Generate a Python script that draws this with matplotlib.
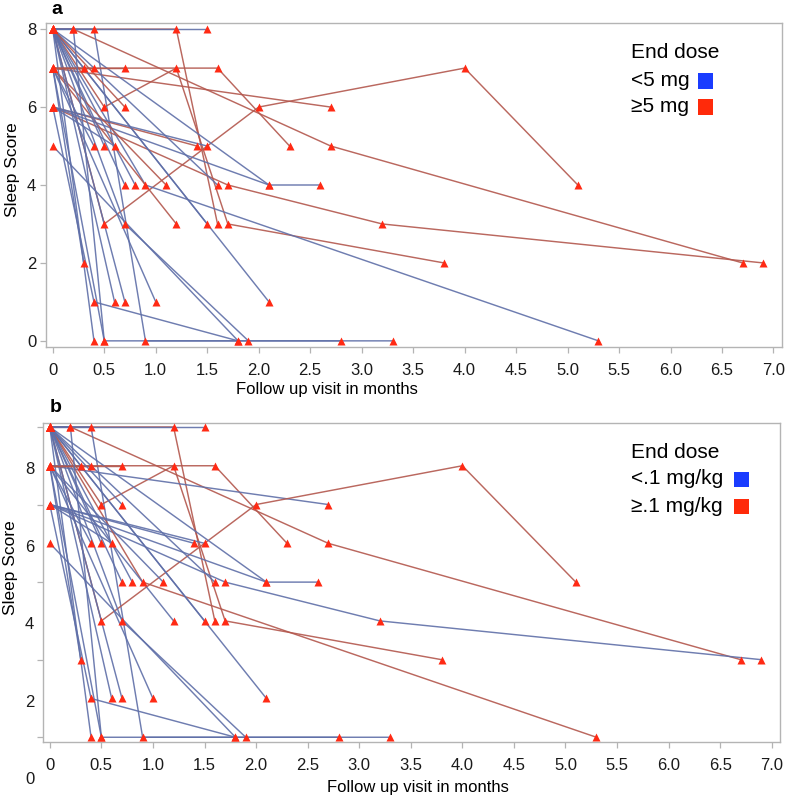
import matplotlib
matplotlib.use("Agg")
import matplotlib.pyplot as plt
from matplotlib.patches import Rectangle
from matplotlib.ticker import MultipleLocator

plt.rcParams["font.family"] = ["Liberation Sans", "DejaVu Sans"]

# one entry per patient: visit times (months) and sleep scores (panel a scale)
visit_months = [
    [0, 0.2, 2.7, 6.7], [0, 1.2, 1.6], [0, 1.5], [0, 0.4, 0.9, 2.8],
    [0, 0.5, 1.2, 1.7, 3.8], [0, 1.6, 2.3], [0, 2.7], [0, 0.5, 2.0, 4.0, 5.1],
    [0, 1.7, 3.2, 6.9], [0, 0.9, 5.3], [0, 1.4], [0, 1.5],
    [0, 2.1, 2.6], [0, 2.1], [0, 1.2], [0, 1.5],
    [0, 1.6], [0, 0.7], [0, 0.8], [0, 1.1],
    [0, 0.4], [0, 0.5], [0, 0.6], [0, 0.7, 1.9],
    [0, 1.8], [0, 0.4, 1.8], [0, 0.4], [0, 0.5, 3.3],
    [0, 0.6], [0, 0.7], [0, 1.0], [0, 2.1],
    [0, 0.3], [0, 0.3], [0, 0.4], [0, 0.7],
    [0, 0.7], [0, 0.2, 0.5],
]
sleep_scores = [
    [8, 8, 5, 2], [8, 8, 3], [8, 8], [8, 8, 0, 0],
    [8, 6, 7, 3, 2], [7, 7, 5], [7, 6], [8, 3, 6, 7, 4],
    [6, 4, 3, 2], [8, 4, 0], [6, 5], [6, 5],
    [8, 4, 4], [6, 4], [7, 3], [8, 3],
    [8, 4], [8, 4], [8, 4], [7, 4],
    [7, 5], [8, 5], [6, 5], [8, 3, 0],
    [5, 0], [6, 1, 0], [8, 0], [7, 0, 0],
    [8, 1], [8, 1], [7, 1], [8, 1],
    [7, 2], [7, 7], [7, 7], [7, 7],
    [8, 6], [8, 8, 0],
]
# end dose group: "hi" = at/above cut-off, "lo" = below
dose_mg = ["hi", "hi", "lo", "lo", "hi", "hi", "hi", "hi",
           "hi", "lo", "hi", "lo", "lo", "lo", "hi", "lo",
           "lo", "lo", "lo", "hi", "lo", "lo", "lo", "lo",
           "lo", "lo", "lo", "lo", "lo", "lo", "lo", "lo",
           "lo", "hi", "hi", "hi", "hi", "lo"]
dose_mgkg = ["hi", "hi", "lo", "lo", "hi", "hi", "lo", "hi",
             "lo", "hi", "lo", "lo", "lo", "lo", "lo", "lo",
             "lo", "lo", "lo", "lo", "lo", "lo", "lo", "lo",
             "lo", "lo", "lo", "lo", "lo", "lo", "lo", "lo",
             "lo", "lo", "hi", "hi", "lo", "lo"]
score_offset_b = 1

legend_a = ["<5 mg", "\u22655 mg"]
legend_b = ["<.1 mg/kg", "\u2265.1 mg/kg"]

LINE = {"lo": "#5f6fa8", "hi": "#b3574d"}
MARK = "#ff2a14"
W, H = 787, 799


def fx(px):
    return px / W


def fy(py):
    return 1 - py / H


def draw_panel(ax, groups, offset):
    for xs, ys, g in zip(visit_months, sleep_scores, groups):
        ax.plot(xs, [y + offset for y in ys], color=LINE[g], lw=1.05, alpha=0.9,
                zorder=2)
    for xs, ys in zip(visit_months, sleep_scores):
        ax.plot(xs, [y + offset for y in ys], ls="none", marker="^", ms=5.6,
                color=MARK, mec="none", zorder=3)
    ax.set_xlim(-0.066, 7.08)
    ax.xaxis.set_major_locator(MultipleLocator(0.5))
    for s in ax.spines.values():
        s.set_color("#b4b4b4")
        s.set_linewidth(1.0)
    ax.tick_params(axis="both", colors="#b4b4b4", labelcolor="#1a1a1a",
                   labelsize=12, length=4, width=0.9, pad=3)
    ax.tick_params(axis="x", pad=7.5)


fig = plt.figure(figsize=(W / 100, H / 100), dpi=100)
ax_a = fig.add_axes([fx(46), fy(346.7), fx(781.7) - fx(46), fy(23.3) - fy(346.7)])
ax_b = fig.add_axes([fx(43), fy(742.3), fx(780) - fx(43), fy(422.7) - fy(742.3)])

draw_panel(ax_a, dose_mg, 0)
draw_panel(ax_b, dose_mgkg, score_offset_b)

ticks = [i * 0.5 for i in range(15)]
tick_text = ["0"] + [f"{t:.1f}" for t in ticks[1:]]
for ax in (ax_a, ax_b):
    ax.set_xticks(ticks)
    ax.set_xticklabels(tick_text)

# panel a y axis
ax_a.set_ylim(-0.15, 8.15)
ax_a.set_yticks([0, 2, 4, 6, 8])
ax_a.set_ylabel("Sleep Score", fontsize=12.5)
ax_a.yaxis.set_label_coords(-0.036, 0.546)
ax_a.set_xlabel("Follow up visit in months", fontsize=12)
ax_a.xaxis.set_label_coords(0.382, -0.109)

# panel b y axis: tick marks on odd scores, labels on even ones
ax_b.set_ylim(0.87, 9.11)
ax_b.set_yticks([1, 3, 5, 7, 9])
ax_b.set_yticklabels([])
for v in [0, 2, 4, 6, 8]:
    ax_b.text(-0.012, v - 0.1, str(v), transform=ax_b.get_yaxis_transform(),
              ha="right", va="center", fontsize=12, color="#1a1a1a", clip_on=False)
ax_b.set_ylabel("Sleep Score", fontsize=12.5)
ax_b.yaxis.set_label_coords(-0.034, 0.545)
ax_b.set_xlabel("Follow up visit in months", fontsize=12)
ax_b.xaxis.set_label_coords(0.509, -0.117)

fig.text(fx(51), fy(9), "a", fontsize=14, fontweight="bold", va="center")
fig.text(fx(50), fy(408), "b", fontsize=14, fontweight="bold", va="center")

# legends: title + labels with coloured squares to the right
legend_specs = [
    (53, 81, 107, legend_a, 698),
    (452.7, 479, 506, legend_b, 734),
]
for y_t, y1, y2, labels, sq_x in legend_specs:
    fig.text(fx(631), fy(y_t), "End dose", fontsize=15, va="center", ha="left")
    for yy, lab, col in [(y1, labels[0], "#1a3cff"), (y2, labels[1], "#ff2a0a")]:
        fig.text(fx(631), fy(yy), lab, fontsize=15, va="center", ha="left")
        fig.add_artist(Rectangle((fx(sq_x), fy(yy + 7.5)), fx(15), 15 / H,
                                 transform=fig.transFigure, color=col, lw=0))

fig.savefig("out.png", dpi=100)
